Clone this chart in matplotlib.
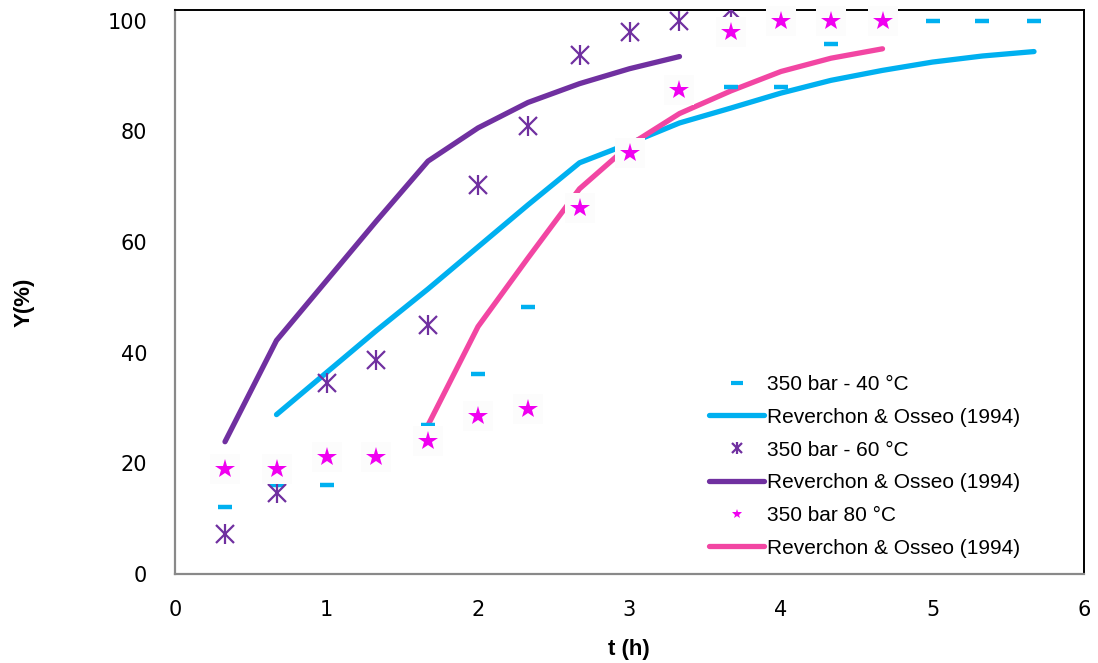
"""Extraction yield curves: experimental points vs Reverchon & Osseo (1994) model"""
import numpy as np
import matplotlib
matplotlib.use("Agg")
import matplotlib.pyplot as plt
from matplotlib.lines import Line2D
from matplotlib.legend_handler import HandlerTuple

# experimental data, 350 bar
t_40 = [0.33, 0.67, 1.0, 1.67, 2.0, 2.33, 3.67, 4.0, 4.33, 5.0, 5.33, 5.67]
y_40 = [12.1, 16.0, 16.1, 26.9, 36.2, 48.3, 88.0, 88.0, 95.7, 100, 100, 100]

t_60 = [0.33, 0.67, 1.0, 1.33, 1.67, 2.0, 2.33, 2.67, 3.0, 3.33, 3.67]
y_60 = [7.2, 14.6, 34.6, 38.7, 45.0, 70.3, 80.9, 93.7, 98.0, 99.9, 102.0]

t_80 = [0.33, 0.67, 1.0, 1.33, 1.67, 2.0, 2.33, 2.67, 3.0, 3.33, 3.67, 4.0, 4.33, 4.67]
y_80 = [18.9, 18.9, 21.1, 21.1, 24.1, 28.5, 29.8, 66.1, 76.1, 87.4, 98.0, 100, 100, 100]

# model curves
tm_40 = [0.67, 1.0, 1.33, 1.67, 2.0, 2.33, 2.67, 3.0, 3.33, 3.67, 4.0, 4.33, 4.67, 5.0, 5.33, 5.67]
ym_40 = [28.8, 36.4, 44.0, 51.5, 59.1, 66.7, 74.3, 77.8, 81.5, 84.2, 86.9, 89.2, 91.0, 92.5, 93.6, 94.4]

tm_60 = [0.33, 0.67, 1.0, 1.33, 1.67, 2.0, 2.33, 2.67, 3.0, 3.33]
ym_60 = [23.9, 42.2, 53.0, 63.8, 74.6, 80.6, 85.2, 88.6, 91.3, 93.5]

tm_80 = [1.67, 2.0, 2.33, 2.67, 3.0, 3.33, 3.67, 4.0, 4.33, 4.67]
ym_80 = [26.9, 44.7, 57.1, 69.6, 77.5, 83.2, 87.3, 90.8, 93.2, 94.9]

labels = ["350 bar - 40 \u00b0C", "Reverchon & Osseo (1994)",
          "350 bar - 60 \u00b0C", "Reverchon & Osseo (1994)",
          "350 bar 80 \u00b0C", "Reverchon & Osseo (1994)"]

c_cyan = "#00B0F0"
c_purple = "#7030A0"
c_pink = "#F246A3"
c_star = "#F000F0"

fig = plt.figure(figsize=(10.98, 6.63), dpi=100)
ax = fig.add_axes([175 / 1098, 1 - 574 / 663, (1084 - 175) / 1098, (574 - 9.5) / 663])

lw = 3.8
ax.plot(tm_40, ym_40, color=c_cyan, lw=lw, solid_capstyle="round", solid_joinstyle="round", zorder=2)
ax.plot(tm_60, ym_60, color=c_purple, lw=lw, solid_capstyle="round", solid_joinstyle="round", zorder=2)
ax.plot(tm_80, ym_80, color=c_pink, lw=lw, solid_capstyle="round", solid_joinstyle="round", zorder=2)

ax.plot(t_40, y_40, ls="none", marker="_", ms=10, mew=3.2, color=c_cyan, zorder=3, clip_on=False)
ax.plot(t_60, y_60, ls="none", marker="x", ms=13, mew=1.6, color=c_purple, zorder=3)
ax.plot(t_60, y_60, ls="none", marker="|", ms=14, mew=1.6, color=c_purple, zorder=3)
# light boxes behind the stars, as in the original
ax.plot(t_80, y_80, ls="none", marker="s", ms=21, mew=0, color="#FCFCFC", zorder=4, clip_on=False)
ax.plot(t_80, y_80, ls="none", marker="*", ms=15, mew=0, color=c_star, zorder=5, clip_on=False)

ax.set_xlim(0, 6)
ax.set_ylim(0, 102)
ax.set_xticks(range(0, 7))
ax.set_yticks(range(0, 101, 20))
ax.tick_params(length=0, labelsize=15)
ax.tick_params(axis="x", pad=19)
ax.tick_params(axis="y", pad=20)
for lab in ax.get_xticklabels() + ax.get_yticklabels():
    lab.set_fontfamily("DejaVu Sans")

for s in ["left", "bottom"]:
    ax.spines[s].set_color("#898989")
    ax.spines[s].set_linewidth(1.6)
for s in ["top", "right"]:
    ax.spines[s].set_color("black")
    ax.spines[s].set_linewidth(1.4)

ax.set_xlabel("t (h)", fontsize=16, fontweight="bold", family="Liberation Sans")
ax.set_ylabel("Y(%)", fontsize=16, fontweight="bold", family="Liberation Sans")
ax.xaxis.set_label_coords((629 - 175) / 909, -(650 - 574) / 564.5)
ax.yaxis.set_label_coords((24 - 175) / 909, (574 - 302) / 564.5)
ax.xaxis.label.set_va("center")
ax.yaxis.label.set_va("center")

# legend proxies
h40 = Line2D([], [], ls="none", marker="_", ms=9, mew=3, color=c_cyan)
hm40 = Line2D([], [], color=c_cyan, lw=lw, solid_capstyle="round")
h60 = (Line2D([], [], ls="none", marker="x", ms=7, mew=1.6, color=c_purple),
       Line2D([], [], ls="none", marker="|", ms=8, mew=1.6, color=c_purple))
hm60 = Line2D([], [], color=c_purple, lw=lw, solid_capstyle="round")
h80 = Line2D([], [], ls="none", marker="*", ms=7, mew=0, color=c_star)
hm80 = Line2D([], [], color=c_pink, lw=lw, solid_capstyle="round")

fig.legend([h40, hm40, h60, hm60, h80, hm80], labels,
           handler_map={tuple: HandlerTuple(ndivide=1, pad=0)},
           loc="upper left", bbox_to_anchor=(709 / 1098, 1 - 375 / 663),
           frameon=False, borderpad=0, borderaxespad=0,
           prop={"family": "Liberation Sans", "size": 15},
           handlelength=2.65, handletextpad=0.12, labelspacing=0.66, numpoints=1)

fig.savefig("out.png", dpi=100)
